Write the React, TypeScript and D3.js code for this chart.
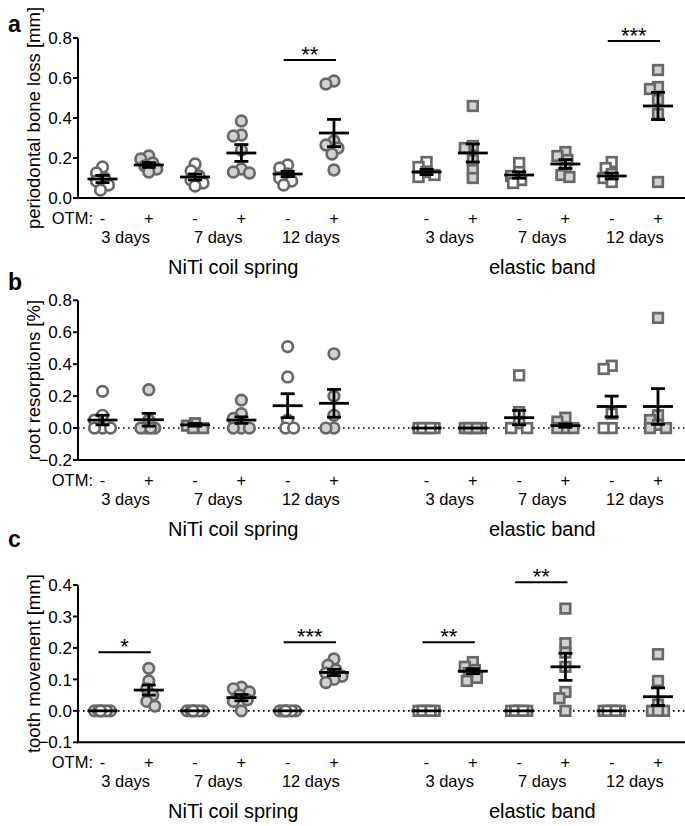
import React from "react";
import * as d3 from "d3";

// ---------- data ----------
const OTM = ["-", "+", "-", "+", "-", "+", "-", "+", "-", "+", "-", "+"];
const DAYS = ["3 days", "7 days", "12 days", "3 days", "7 days", "12 days"];
const DEVICES = ["NiTi coil spring", "elastic band"];

// panel a: periodontal bone loss [mm]
const boneLoss: number[][] = [
  [0.155, 0.125, 0.1, 0.085, 0.065, 0.04],
  [0.21, 0.195, 0.175, 0.16, 0.145, 0.13],
  [0.17, 0.135, 0.11, 0.09, 0.075, 0.06],
  [0.385, 0.315, 0.31, 0.24, 0.145, 0.13, 0.125],
  [0.165, 0.15, 0.12, 0.1, 0.085, 0.065],
  [0.585, 0.57, 0.285, 0.265, 0.25, 0.22, 0.14],
  [0.18, 0.155, 0.13, 0.115, 0.105],
  [0.46, 0.26, 0.25, 0.19, 0.14, 0.1],
  [0.175, 0.13, 0.11, 0.09, 0.075],
  [0.23, 0.21, 0.19, 0.15, 0.115, 0.105],
  [0.18, 0.15, 0.12, 0.1, 0.08],
  [0.64, 0.555, 0.545, 0.49, 0.42, 0.08],
];
const boneLossMean = [0.095, 0.165, 0.105, 0.225, 0.12, 0.325, 0.13, 0.225, 0.115, 0.17, 0.11, 0.46];
const boneLossSem = [0.018, 0.012, 0.015, 0.042, 0.013, 0.068, 0.013, 0.045, 0.016, 0.022, 0.015, 0.068];
const boneLossShape = ["c", "c", "c", "c", "c", "c", "s", "s", "s", "s", "s", "s"];
const boneLossFilled = [false, true, false, true, false, true, false, true, false, true, false, true];
const boneLossSig = [
  { from: 4, to: 5, value: 0.69, label: "**" },
  { from: 10, to: 11, value: 0.785, label: "***" },
];
const boneLossTicks = [0, 0.2, 0.4, 0.6, 0.8];

// panel b: root resorptions [%]
const rootRes: number[][] = [
  [0.23, 0.08, 0.05, 0, 0, 0],
  [0.24, 0.05, 0, 0, 0, 0],
  [0.03, 0.015, 0, 0],
  [0.175, 0.09, 0.06, 0, 0, 0],
  [0.51, 0.32, 0.05, 0, 0],
  [0.465, 0.2, 0.08, 0, 0],
  [0, 0, 0, 0, 0],
  [0, 0, 0, 0, 0],
  [0.33, 0.1, 0.03, 0, 0],
  [0.065, 0.04, 0, 0, 0],
  [0.39, 0.37, 0.09, 0, 0],
  [0.69, 0.08, 0.05, 0.02, 0, 0],
];
const rootResMean = [0.05, 0.052, 0.02, 0.05, 0.14, 0.155, 0, 0, 0.065, 0.015, 0.135, 0.135];
const rootResSem = [0.03, 0.04, 0.008, 0.02, 0.075, 0.087, 0, 0, 0.045, 0.01, 0.065, 0.112];
const rootResShape = ["c", "c", "s", "c", "c", "c", "s", "s", "s", "s", "s", "s"];
const rootResFilled = [false, true, true, true, false, true, false, true, false, true, false, true];
const rootResSig: { from: number; to: number; value: number; label: string }[] = [];
const rootResTicks = [-0.2, 0, 0.2, 0.4, 0.6, 0.8];

// panel c: tooth movement [mm]
const toothMove: number[][] = [
  [0, 0, 0, 0, 0, 0],
  [0.135, 0.095, 0.07, 0.05, 0.03, 0.015],
  [0, 0, 0, 0, 0, 0],
  [0.075, 0.07, 0.06, 0.05, 0.035, 0.03, 0.0],
  [0, 0, 0, 0, 0, 0],
  [0.165, 0.145, 0.13, 0.12, 0.11, 0.1, 0.09],
  [0, 0, 0, 0, 0],
  [0.155, 0.14, 0.13, 0.12, 0.105, 0.095],
  [0, 0, 0, 0, 0],
  [0.325, 0.215, 0.185, 0.14, 0.06, 0.04, 0.0],
  [0, 0, 0, 0, 0],
  [0.18, 0.095, 0.02, 0, 0, 0],
];
const toothMoveMean = [0, 0.066, 0, 0.042, 0, 0.122, 0, 0.126, 0, 0.14, 0, 0.045];
const toothMoveSem = [0, 0.016, 0, 0.01, 0, 0.01, 0, 0.008, 0, 0.043, 0, 0.028];
const toothMoveShape = ["c", "c", "c", "c", "c", "c", "s", "s", "s", "s", "s", "s"];
const toothMoveFilled = [false, true, false, true, false, true, false, true, false, true, false, true];
const toothMoveSig = [
  { from: 0, to: 1, value: 0.186, label: "*" },
  { from: 4, to: 5, value: 0.218, label: "***" },
  { from: 6, to: 7, value: 0.218, label: "**" },
  { from: 8, to: 9, value: 0.409, label: "**" },
];
const toothMoveTicks = [-0.1, 0, 0.1, 0.2, 0.3, 0.4];

// ---------- styles ----------
const FONT = "'Liberation Sans', Arial, Helvetica, sans-serif";
const STROKE = "#686868";
const FILL = "#d2d2d2";
const AXIS_X = 78;
const RIGHT = 685;

// 13 slots, slot 6 is the gap between devices
const slot = (i: number) => (i < 6 ? i : i + 1);
const x = d3.scaleLinear().domain([0, 12]).range([102.5, 658]);
const gx = (i: number) => x(slot(i));

function dodge(ys: number[], minD = 8, step = 2, maxOff = 9): number[] {
  const placed: { x: number; y: number }[] = [];
  const offs = [0];
  for (let k = step; k <= maxOff; k += step) offs.push(-k, k);
  return ys.map((y) => {
    let best = 0;
    let bestD = -1;
    for (const o of offs) {
      let m = Infinity;
      for (const p of placed) m = Math.min(m, Math.hypot(p.x - o, p.y - y));
      if (m >= minD) {
        best = o;
        bestD = m;
        break;
      }
      if (m > bestD) {
        bestD = m;
        best = o;
      }
    }
    placed.push({ x: best, y });
    return best;
  });
}

type PanelProps = {
  letter: string;
  letterY: number;
  title: string;
  top: number;
  bottom: number;
  domain: [number, number];
  ticks: number[];
  data: number[][];
  means: number[];
  sems: number[];
  shapes: string[];
  filled: boolean[];
  sig: { from: number; to: number; value: number; label: string }[];
  zeroLine: boolean;
};

function Panel(p: PanelProps) {
  const y = d3.scaleLinear().domain(p.domain).range([p.bottom, p.top]);
  const fmt = d3.format(".1f");
  const r = 5.3;
  const side = 9.6;
  return (
    <g>
      <text x={8} y={p.letterY} fontFamily={FONT} fontWeight="bold" fontSize={23}>
        {p.letter}
      </text>
      {/* y axis title */}
      <text
        transform={`translate(40,${(p.top + p.bottom) / 2}) rotate(-90)`}
        textAnchor="middle"
        fontFamily={FONT}
        fontSize={18.5}
      >
        {p.title}
      </text>
      {/* zero line */}
      {p.zeroLine && (
        <line
          x1={AXIS_X}
          x2={RIGHT}
          y1={y(0)}
          y2={y(0)}
          stroke="#000"
          strokeWidth={1.6}
          strokeDasharray="1.6,3.4"
        />
      )}
      {/* points */}
      {p.data.map((vals, gi) => {
        const ys = vals.map((v) => y(v));
        const offs = dodge(ys);
        const cx = gx(gi);
        const fill = p.filled[gi] ? FILL : "#fff";
        return (
          <g key={gi}>
            {vals.map((v, k) =>
              p.shapes[gi] === "c" ? (
                <circle
                  key={k}
                  cx={cx + offs[k]}
                  cy={ys[k]}
                  r={r}
                  fill={fill}
                  stroke={STROKE}
                  strokeWidth={2.7}
                />
              ) : (
                <rect
                  key={k}
                  x={cx + offs[k] - side / 2}
                  y={ys[k] - side / 2}
                  width={side}
                  height={side}
                  fill={fill}
                  stroke={STROKE}
                  strokeWidth={2.7}
                />
              )
            )}
          </g>
        );
      })}
      {/* mean and sem */}
      {p.means.map((m, gi) => {
        const cx = gx(gi);
        const s = p.sems[gi];
        return (
          <g key={gi} stroke="#000" strokeWidth={2.8}>
            <line x1={cx - 15} x2={cx + 15} y1={y(m)} y2={y(m)} />
            {s > 0 && (
              <>
                <line x1={cx} x2={cx} y1={y(m - s)} y2={y(m + s)} />
                <line x1={cx - 7} x2={cx + 7} y1={y(m + s)} y2={y(m + s)} />
                <line x1={cx - 7} x2={cx + 7} y1={y(m - s)} y2={y(m - s)} />
              </>
            )}
          </g>
        );
      })}
      {/* significance */}
      {p.sig.map((s, i) => {
        const x1 = gx(s.from) - 4;
        const x2 = gx(s.to) + 2;
        const yy = y(s.value);
        return (
          <g key={i}>
            <line x1={x1} x2={x2} y1={yy} y2={yy} stroke="#000" strokeWidth={2} />
            <text
              x={(x1 + x2) / 2}
              y={yy + 2}
              textAnchor="middle"
              fontFamily={FONT}
              fontSize={22}
            >
              {s.label}
            </text>
          </g>
        );
      })}
      {/* axes */}
      <line x1={AXIS_X} x2={AXIS_X} y1={y(p.domain[1])} y2={p.bottom} stroke="#000" strokeWidth={2} />
      <line x1={AXIS_X - 1} x2={RIGHT} y1={p.bottom} y2={p.bottom} stroke="#000" strokeWidth={2} />
      {p.ticks.map((t) => (
        <g key={t}>
          <line x1={AXIS_X - 5} x2={AXIS_X} y1={y(t)} y2={y(t)} stroke="#000" strokeWidth={2} />
          <text
            x={AXIS_X - 6}
            y={y(t)}
            dy="0.36em"
            textAnchor="end"
            fontFamily={FONT}
            fontSize={17}
          >
            {fmt(t)}
          </text>
        </g>
      ))}
      {/* category labels */}
      <text x={93} y={p.bottom + 26} textAnchor="end" fontFamily={FONT} fontSize={16.5}>
        OTM:
      </text>
      {OTM.map((o, gi) => (
        <text
          key={gi}
          x={gx(gi)}
          y={p.bottom + 26}
          textAnchor="middle"
          fontFamily={FONT}
          fontSize={16.5}
        >
          {o}
        </text>
      ))}
      {DAYS.map((d, di) => (
        <text
          key={di}
          x={(gx(di * 2) + gx(di * 2 + 1)) / 2}
          y={p.bottom + 45}
          textAnchor="middle"
          fontFamily={FONT}
          fontSize={16.5}
        >
          {d}
        </text>
      ))}
      {DEVICES.map((d, di) => (
        <text
          key={di}
          x={(gx(di * 6) + gx(di * 6 + 5)) / 2 + (di === 0 ? 15 : 0)}
          y={p.bottom + 76}
          textAnchor="middle"
          fontFamily={FONT}
          fontSize={20}
        >
          {d}
        </text>
      ))}
    </g>
  );
}

export default function App() {
  return (
    <svg
      width={685}
      height={826}
      style={{ position: "absolute", left: 0, top: 0, background: "#fff" }}
    >
      <Panel
        letter="a"
        letterY={32}
        title="periodontal bone loss [mm]"
        top={38}
        bottom={198}
        domain={[0, 0.8]}
        ticks={boneLossTicks}
        data={boneLoss}
        means={boneLossMean}
        sems={boneLossSem}
        shapes={boneLossShape}
        filled={boneLossFilled}
        sig={boneLossSig}
        zeroLine={false}
      />
      <Panel
        letter="b"
        letterY={290}
        title="root resorptions [%]"
        top={300.3}
        bottom={460}
        domain={[-0.2, 0.8]}
        ticks={rootResTicks}
        data={rootRes}
        means={rootResMean}
        sems={rootResSem}
        shapes={rootResShape}
        filled={rootResFilled}
        sig={rootResSig}
        zeroLine={true}
      />
      <Panel
        letter="c"
        letterY={547}
        title="tooth movement [mm]"
        top={585}
        bottom={742.3}
        domain={[-0.1, 0.4]}
        ticks={toothMoveTicks}
        data={toothMove}
        means={toothMoveMean}
        sems={toothMoveSem}
        shapes={toothMoveShape}
        filled={toothMoveFilled}
        sig={toothMoveSig}
        zeroLine={true}
      />
    </svg>
  );
}
